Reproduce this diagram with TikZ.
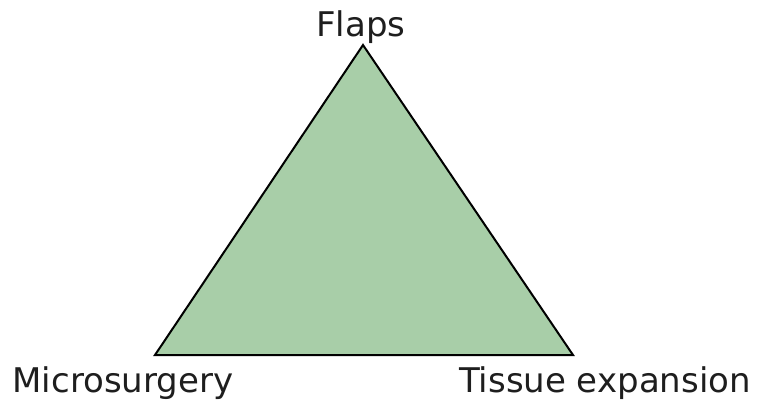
\documentclass[tikz,border=0pt]{standalone}
\usepackage{fontspec}
\setmainfont{DejaVu Sans}
\usepackage{tikz}
\usetikzlibrary{positioning}
\definecolor{leafgreen}{HTML}{A8CEA8}
\definecolor{inkgray}{HTML}{1E1E1E}

\begin{document}
\begin{tikzpicture}[x=1pt, y=-1pt,
    corner/.style={inner sep=0pt, text=inkgray, font=\fontsize{34}{37}\selectfont, anchor=base}]
        % Fix the page size
        \useasboundingbox (0,0) rectangle (769,402);

        % Corners of the triangle
        \coordinate (top) at (363,45);
        \coordinate (left) at (155,355);
        \coordinate (right) at (573,355);

        % Draw the triangle
        \filldraw[fill=leafgreen, draw=black, line width=2pt, line join=miter] (top) -- (left) -- (right) -- cycle;

        % Labels for corners
        \node[corner] (flaps) at (361,36) {Flaps};
        \node[corner] (micro) at (123,392) {Microsurgery};
        \node[corner] (tissue) at (605,392) {Tissue expansion};
    \end{tikzpicture}
\end{document}
